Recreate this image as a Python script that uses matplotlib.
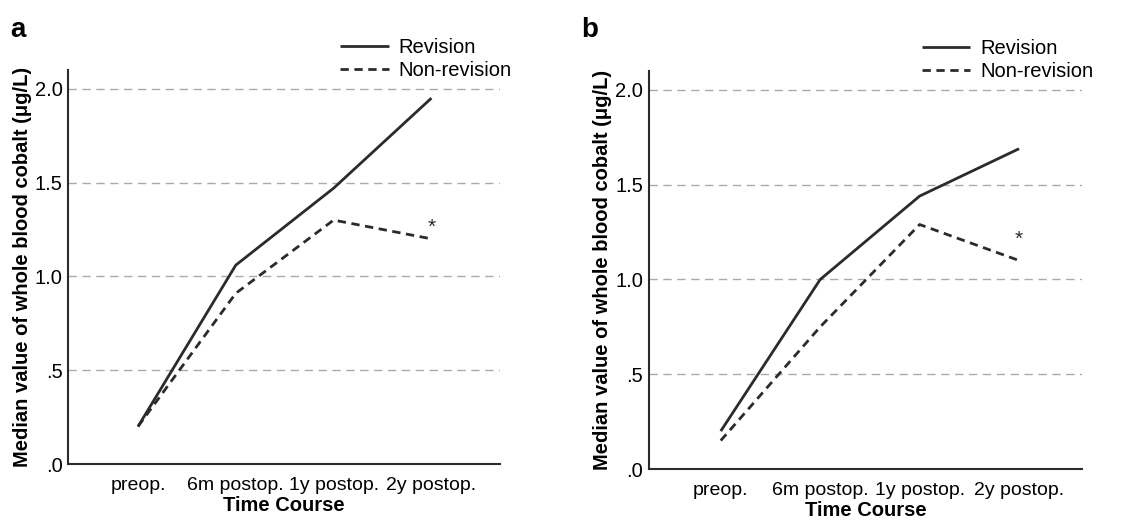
import matplotlib
matplotlib.use("Agg")
import matplotlib.pyplot as plt

plt.rcParams['font.family'] = ['Liberation Sans', 'DejaVu Sans']

categories = ["preop.", "6m postop.", "1y postop.", "2y postop."]
yticks = [0.0, 0.5, 1.0, 1.5, 2.0]
yticklabels = [".0", ".5", "1.0", "1.5", "2.0"]

revision_a = [0.20, 1.06, 1.47, 1.95]
nonrevision_a = [0.20, 0.91, 1.30, 1.20]
star_a = 1.26

revision_b = [0.20, 1.00, 1.44, 1.69]
nonrevision_b = [0.15, 0.75, 1.29, 1.10]
star_b = 1.21

fig = plt.figure(figsize=(11.44, 5.22), dpi=100)
ax_a = fig.add_axes([0.0594, 0.111, 0.378, 0.755])
ax_b = fig.add_axes([0.567, 0.1015, 0.379, 0.7625])

line_col = "#2b2b2b"

def draw(ax, rev, nonrev, star, xlim):
    x = list(range(len(categories)))
    ax.plot(x, rev, color=line_col, lw=2.0, solid_capstyle='butt', label="Revision")
    ax.plot(x, nonrev, color=line_col, lw=2.0, ls=(0, (3, 2)), label="Non-revision")
    ax.text(x[-1], star, "*", ha='center', va='center', fontsize=15, color=line_col)
    ax.set_xlim(*xlim)
    ax.set_ylim(0, 2.1)
    ax.set_xticks(x)
    ax.set_xticklabels(categories, fontsize=14)
    ax.set_yticks(yticks)
    ax.set_yticklabels(yticklabels, fontsize=14.5)
    for v in yticks[1:]:
        ax.axhline(v, color="#aaaaaa", lw=1.0, ls=(0, (6, 4)), zorder=0)
    ax.tick_params(axis='x', length=0, pad=9)
    ax.tick_params(axis='y', length=0, pad=4)
    for s in ['top', 'right']:
        ax.spines[s].set_visible(False)
    for s in ['left', 'bottom']:
        ax.spines[s].set_color(line_col)
        ax.spines[s].set_linewidth(1.5)
    ax.set_xlabel("Time Course", fontsize=14.5, fontweight='bold', labelpad=2)
    ax.set_ylabel("Median value of whole blood cobalt (μg/L)", fontsize=14.5,
                  fontweight='bold', labelpad=2)
    ax.legend(loc='lower right', bbox_to_anchor=(1.045, 0.955), frameon=False,
              fontsize=14.5, handlelength=2.4, handletextpad=0.5, labelspacing=0.2,
              borderaxespad=0)

draw(ax_a, revision_a, nonrevision_a, star_a, (-0.716, 3.705))
draw(ax_b, revision_b, nonrevision_b, star_b, (-0.725, 3.635))

fig.text(0.009, 0.93, "a", fontsize=20, fontweight='bold')
fig.text(0.508, 0.93, "b", fontsize=20, fontweight='bold')

fig.savefig("out.png", dpi=100)
